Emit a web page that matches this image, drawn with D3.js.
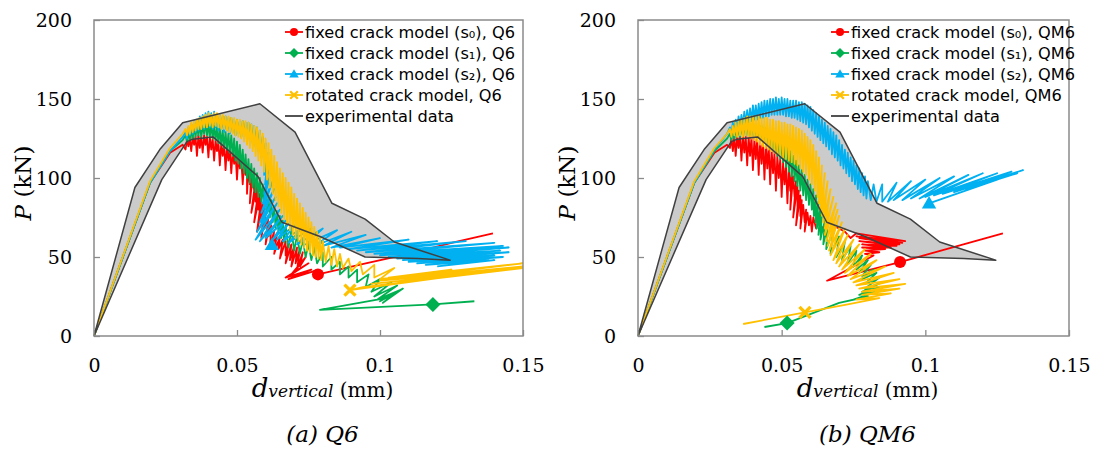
<!DOCTYPE html>
<html>
<head>
<meta charset="utf-8">
<script src="https://cdn.jsdelivr.net/npm/d3@7"></script>
<style>
  body { margin: 0; background: #fff; }
  .tick text { font-family: "DejaVu Serif", serif; font-size: 19px; fill: #000; }
  .tick line { stroke: #8a8a8a; stroke-width: 1.3; }
  .legend text { font-family: "DejaVu Sans", sans-serif; font-size: 16.2px; fill: #000; }
</style>
</head>
<body>
<div id="chart"></div>
<script>
/* SET UP */

const w = 1103;
const h = 450;
const top_ = 20;
const bottom_ = 336;

const xTicks = [0, 0.05, 0.1, 0.15];
const yTicks = [0, 50, 100, 150, 200];
const colors = ["#ff0000", "#00b050", "#00b0f0", "#ffc000"];

// experimental envelope (same test data in both panels), [d (mm), P (kN)]
const envelope = [
  [0, 0], [0.0143, 94], [0.023, 118], [0.031, 135], [0.058, 147], [0.0703, 129],
  [0.0832, 84], [0.0948, 74], [0.105, 59.5], [0.1245, 48], [0.1133, 49], [0.0948, 50],
  [0.079, 63], [0.0657, 72], [0.0573, 101], [0.0416, 126], [0.0346, 124.6],
  [0.0325, 123], [0.0237, 99], [0, 0]
];

// Q6 panel
const q6Red = [
  [0,0],[0.0196,97],[0.0266,116],[0.031,121],[0.032,118],[0.0325,124],[0.033,120],[0.0335,125],
  [0.034,117],[0.0345,126],[0.035,121],[0.0355,126],[0.036,114],[0.0365,127],[0.037,119],[0.0375,126],
  [0.038,116],[0.0385,127],[0.039,121],[0.0395,126],[0.040,113],[0.0405,126],[0.041,118],[0.0415,125],
  [0.042,111],[0.0425,124],[0.043,117],[0.0435,123],[0.044,108],[0.0445,122],[0.045,114],[0.0455,121],
  [0.046,105],[0.0465,120],[0.047,111],[0.0475,118],[0.048,103],[0.0485,117],[0.049,109],[0.0495,115],
  [0.050,99],[0.0505,114],[0.051,106],[0.0515,112],[0.052,96],[0.0525,110],[0.053,102],[0.0535,108],
  [0.0535,90],[0.054,106],[0.0545,96],[0.055,104],[0.0545,84],[0.0555,102],[0.056,92],[0.0565,99],
  [0.055,78],[0.057,96],[0.0565,85],[0.0575,93],[0.056,72],[0.058,90],[0.0575,80],[0.0585,87],
  [0.057,66],[0.059,84],[0.0585,74],[0.0595,81],[0.0585,62],[0.060,78],[0.0595,68],[0.061,76],
  [0.060,58],[0.0615,72],[0.061,63],[0.062,70],[0.0615,55],[0.063,67],[0.0625,58],[0.064,65],
  [0.063,52],[0.065,63],[0.0645,55],[0.066,61],[0.065,49],[0.067,60],[0.067,51],[0.068,59],
  [0.067,46],[0.069,58],[0.0685,48],[0.070,57],[0.069,44],[0.071,56],[0.0705,46],[0.072,55],
  [0.071,42],[0.073,53],[0.072,44],[0.074,50],[0.069,39],[0.075,46],[0.067,37],[0.076,42],
  [0.068,36],[0.077,41],[0.0783,39],[0.095,46],[0.11,52],[0.125,59],[0.1395,65]
];
const q6Green = [
  [0,0],[0.0196,97],[0.0266,117],[0.031,124],[0.032,127],[0.0325,123],[0.033,129],[0.0335,124],
  [0.034,131],[0.0345,125],[0.035,132],[0.0355,126],[0.036,133],[0.0365,127],[0.037,134],[0.0375,126],
  [0.038,133],[0.0385,128],[0.039,135],[0.0395,127],[0.040,134],[0.0405,126],[0.041,134],[0.0415,125],
  [0.042,133],[0.0425,124],[0.043,132],[0.0435,122],[0.044,131],[0.0445,121],[0.045,130],[0.0455,119],
  [0.046,129],[0.0465,118],[0.047,128],[0.0475,116],[0.048,127],[0.0485,114],[0.049,125],[0.0495,111],
  [0.050,123],[0.0505,109],[0.051,121],[0.0515,106],[0.052,118],[0.0525,103],[0.053,115],[0.0535,100],
  [0.054,112],[0.0545,97],[0.055,109],[0.0555,94],[0.056,106],[0.0565,91],[0.057,103],[0.0575,88],
  [0.058,100],[0.0585,85],[0.059,96],[0.0595,81],[0.060,92],[0.0605,78],[0.061,89],[0.0615,75],
  [0.062,86],[0.0625,72],[0.063,82],[0.0635,68],[0.064,79],[0.0645,65],[0.065,76],[0.0655,62],
  [0.066,73],[0.0665,59],[0.067,70],[0.068,56],[0.069,67],[0.070,54],[0.071,64],[0.072,52],
  [0.073,61],[0.074,50],[0.075,58],[0.076,48],[0.077,56],[0.078,46],[0.080,53],[0.080,44],
  [0.083,50],[0.083,42],[0.086,47],[0.086,39],[0.089,44],[0.089,37],[0.092,42],[0.092,34],
  [0.096,39],[0.095,31],[0.1,36],[0.097,28],[0.104,34],[0.098,25],[0.106,32],[0.099,23],
  [0.107,29],[0.1,22],[0.105,27],[0.101,21],[0.108,30],[0.102,24],[0.079,16.5],[0.1185,20],
  [0.133,22]
];
const q6Blue = [
  [0,0],[0.0196,97],[0.0266,117],[0.031,126],[0.032,129],[0.0325,125],[0.033,132],[0.0335,127],
  [0.034,134],[0.0345,128],[0.035,136],[0.0355,129],[0.036,137],[0.0365,130],[0.037,139],[0.0375,131],
  [0.038,140],[0.0385,131],[0.039,141],[0.0395,132],[0.040,142],[0.0405,132],[0.041,141],[0.0415,131],
  [0.042,142],[0.0425,132],[0.043,140],[0.0435,130],[0.044,140],[0.0445,131],[0.045,139],[0.0455,129],
  [0.046,139],[0.0465,130],[0.047,138],[0.0475,128],[0.048,138],[0.0485,129],[0.049,137],[0.0495,127],
  [0.050,137],[0.0505,128],[0.051,136],[0.0515,126],[0.052,136],[0.0525,127],[0.053,135],[0.0535,125],
  [0.054,135],[0.0545,124],[0.055,134],[0.0555,122],[0.056,133],[0.0565,120],[0.057,132],[0.0575,117],
  [0.058,130],[0.0585,113],[0.059,126],[0.0595,108],[0.060,122],[0.0595,102],[0.061,116],[0.0598,96],
  [0.0615,110],[0.0595,90],[0.062,104],[0.059,84],[0.0625,98],[0.0585,78],[0.063,93],[0.058,72],
  [0.0635,88],[0.057,66],[0.064,84],[0.0565,61],[0.065,80],[0.058,60],[0.066,76],[0.06,62],
  [0.067,73],[0.062,60],[0.068,71],[0.064,61],[0.07,70],[0.066,60],[0.073,69],[0.068,59],
  [0.076,68],[0.071,58],[0.08,68],[0.074,58],[0.085,67],[0.077,57],[0.09,66],[0.08,57],
  [0.095,64],[0.083,56],[0.1,62],[0.086,56],[0.11,61],[0.089,55],[0.12,60],[0.092,54],
  [0.13,60],[0.095,53],[0.14,59],[0.098,52],[0.143,57],[0.1,51],[0.145,56],[0.103,50],
  [0.142,54],[0.106,49],[0.145,53],[0.108,48],[0.14,51],[0.11,47],[0.143,50],[0.113,46],
  [0.138,49],[0.116,45],[0.14,48],[0.12,44]
];
const q6Yellow = [
  [0,0],[0.0196,98],[0.0266,119],[0.031,128],[0.032,131],[0.0325,127],[0.033,133],[0.0335,128],
  [0.034,135],[0.0345,129],[0.035,136],[0.0355,130],[0.036,137],[0.0365,131],[0.037,138],[0.0375,131],
  [0.038,139],[0.0385,132],[0.039,140],[0.0395,132],[0.040,141],[0.0405,133],[0.041,140],[0.0415,132],
  [0.042,141],[0.0425,133],[0.043,141],[0.0435,132],[0.044,140],[0.0445,131],[0.045,140],[0.0455,131],
  [0.046,139],[0.0465,130],[0.047,139],[0.0475,129],[0.048,138],[0.0485,128],[0.049,138],[0.0495,127],
  [0.050,137],[0.0505,126],[0.051,137],[0.0515,125],[0.052,136],[0.0525,123],[0.053,136],[0.0535,121],
  [0.054,135],[0.0545,119],[0.055,134],[0.0555,117],[0.056,133],[0.0565,114],[0.057,132],[0.0575,111],
  [0.058,130],[0.0585,108],[0.059,128],[0.0595,104],[0.060,125],[0.0605,99],[0.061,122],[0.0615,94],
  [0.062,118],[0.0625,90],[0.063,114],[0.0635,86],[0.064,110],[0.0645,82],[0.065,106],[0.0655,78],
  [0.066,103],[0.0665,74],[0.067,100],[0.0675,71],[0.068,97],[0.0685,67],[0.069,94],[0.0695,64],
  [0.070,90],[0.0705,62],[0.071,87],[0.0715,60],[0.072,84],[0.0725,58],[0.073,81],[0.0735,56],
  [0.074,78],[0.0745,54],[0.075,75],[0.0755,53],[0.076,72],[0.0765,51],[0.077,69],[0.0775,50],
  [0.078,66],[0.0785,49],[0.079,63],[0.0795,48],[0.080,60],[0.081,47],[0.082,57],[0.083,45],
  [0.084,55],[0.085,44],[0.086,52],[0.087,43],[0.089,49],[0.09,41],[0.093,47],[0.094,39],
  [0.098,45],[0.098,37],[0.105,43],[0.1,36],[0.125,42],[0.103,37],[0.15,46],[0.104,36],
  [0.15,44],[0.1,35],[0.14,41],[0.097,33],[0.15,43],[0.094,31],[0.0895,29],[0.15,44]
];
// marker positions: s0 circle, s1 diamond, s2 triangle, rotated cross
const q6Markers = [[0.0783, 39], [0.1185, 20], [0.0622, 57.6], [0.0895, 29]];

// QM6 panel
const qm6Red = [
  [0,0],[0.0196,97],[0.0266,116],[0.031,121],[0.032,119],[0.0325,125],[0.033,117],[0.0335,126],
  [0.034,114],[0.0345,126],[0.035,119],[0.0355,127],[0.036,111],[0.0365,127],[0.037,116],[0.0375,126],
  [0.038,108],[0.0385,126],[0.039,114],[0.0395,126],[0.040,105],[0.0405,125],[0.041,112],[0.0415,125],
  [0.042,102],[0.0425,124],[0.043,109],[0.0435,123],[0.044,99],[0.0445,121],[0.045,106],[0.0455,120],
  [0.046,96],[0.0465,118],[0.047,103],[0.0475,116],[0.048,92],[0.0485,114],[0.049,100],[0.0495,112],
  [0.050,88],[0.0505,110],[0.051,96],[0.0515,108],[0.052,84],[0.0525,106],[0.053,92],[0.0535,104],
  [0.053,80],[0.054,101],[0.0545,88],[0.055,98],[0.054,75],[0.0555,95],[0.0555,82],[0.056,92],
  [0.055,70],[0.0565,89],[0.0565,76],[0.057,86],[0.0565,68],[0.0575,83],[0.058,72],[0.0585,80],
  [0.058,66],[0.059,78],[0.0595,70],[0.060,76],[0.0605,66],[0.061,75],[0.062,68],[0.063,74],
  [0.064,68],[0.066,72],[0.068,70],[0.072,66],[0.074,62],[0.076,65],[0.093,60],[0.076,63],
  [0.092,59],[0.077,62],[0.091,58],[0.077,60],[0.09,57],[0.078,58],[0.088,56],[0.078,56],
  [0.086,55],[0.079,54],[0.084,53],[0.079,52],[0.082,51],[0.0658,35],[0.0912,46.8],[0.127,65]
];
const qm6Green = [
  [0,0],[0.0196,97],[0.0266,117],[0.031,125],[0.032,128],[0.0325,124],[0.033,130],[0.0335,125],
  [0.034,131],[0.0345,126],[0.035,132],[0.0355,126],[0.036,133],[0.0365,127],[0.037,134],[0.0375,127],
  [0.038,134],[0.0385,127],[0.039,135],[0.0395,127],[0.040,134],[0.0405,126],[0.041,134],[0.0415,125],
  [0.042,133],[0.0425,124],[0.043,133],[0.0435,123],[0.044,132],[0.0445,122],[0.045,131],[0.0455,120],
  [0.046,130],[0.0465,118],[0.047,129],[0.0475,116],[0.048,127],[0.0485,114],[0.049,126],[0.0495,112],
  [0.050,124],[0.0505,110],[0.051,122],[0.0515,107],[0.052,120],[0.0525,104],[0.053,117],[0.0535,101],
  [0.054,114],[0.0545,98],[0.055,111],[0.0555,95],[0.056,108],[0.0565,92],[0.057,105],[0.0575,89],
  [0.058,102],[0.0585,86],[0.059,99],[0.0595,83],[0.060,96],[0.0605,80],[0.061,93],[0.0612,76],
  [0.062,89],[0.0618,72],[0.0628,85],[0.0622,68],[0.0635,81],[0.0628,64],[0.064,77],[0.0635,61],
  [0.065,73],[0.0645,58],[0.066,70],[0.0655,55],[0.068,67],[0.067,52],[0.070,63],[0.069,50],
  [0.072,60],[0.071,48],[0.074,57],[0.073,46],[0.076,54],[0.075,44],[0.078,51],[0.076,42],
  [0.080,48],[0.077,40],[0.081,45],[0.078,38],[0.082,42],[0.078,36],[0.083,40],[0.079,33],
  [0.084,37],[0.079,30],[0.085,34],[0.078,28],[0.084,31],[0.077,26],[0.083,28],[0.075,23],
  [0.08,25],[0.07,21],[0.0519,8.2],[0.044,5.7]
];
const qm6Blue = [
  [0,0],[0.0196,97],[0.0266,118],[0.031,128],[0.032,132],[0.0325,128],[0.033,135],[0.0335,130],
  [0.034,137],[0.0345,131],[0.035,139],[0.0355,132],[0.036,140],[0.0365,133],[0.037,142],[0.0375,134],
  [0.038,143],[0.0385,135],[0.039,144],[0.0395,136],[0.040,146],[0.0405,137],[0.041,146],[0.0415,137],
  [0.042,147],[0.0425,138],[0.043,148],[0.0435,138],[0.044,149],[0.0445,139],[0.045,149],[0.0455,139],
  [0.046,150],[0.0465,140],[0.047,150],[0.0475,140],[0.048,151],[0.0485,140],[0.049,150],[0.0495,140],
  [0.050,151],[0.0505,140],[0.051,150],[0.0515,139],[0.052,150],[0.0525,139],[0.053,149],[0.0535,138],
  [0.054,149],[0.0545,138],[0.055,149],[0.0555,137],[0.056,148],[0.0565,136],[0.057,148],[0.0575,135],
  [0.058,147],[0.0585,134],[0.059,146],[0.0595,132],[0.060,145],[0.0605,130],[0.061,143],[0.0615,128],
  [0.062,141],[0.0625,126],[0.063,139],[0.0635,124],[0.064,137],[0.0645,122],[0.065,135],[0.0655,120],
  [0.066,133],[0.0665,118],[0.067,131],[0.0675,115],[0.068,129],[0.0685,113],[0.069,127],[0.0695,111],
  [0.070,124],[0.0705,108],[0.071,121],[0.0715,106],[0.072,118],[0.0725,103],[0.073,116],[0.0735,101],
  [0.074,113],[0.0745,98],[0.075,111],[0.0755,96],[0.076,108],[0.0765,93],[0.077,106],[0.0775,91],
  [0.078,103],[0.0785,89],[0.079,101],[0.0795,87],[0.080,98],[0.081,86],[0.082,96],[0.083,85],
  [0.085,96],[0.085,85],[0.09,97],[0.087,85],[0.095,98],[0.089,86],[0.1,99],[0.092,86],
  [0.105,100],[0.095,87],[0.11,101],[0.098,87],[0.115,102],[0.1,88],[0.12,103],[0.103,89],
  [0.125,103],[0.106,90],[0.13,104],[0.11,91],[0.134,105],[0.114,93],[0.13,102],[0.118,95],
  [0.132,103],[0.12,97],[0.125,99],[0.1013,84]
];
const qm6Yellow = [
  [0,0],[0.0196,98],[0.0266,119],[0.031,128],[0.032,131],[0.0325,126],[0.033,133],[0.0335,127],
  [0.034,135],[0.0345,126],[0.035,136],[0.0355,127],[0.036,137],[0.0365,126],[0.037,138],[0.0375,127],
  [0.038,139],[0.0385,126],[0.039,139],[0.0395,125],[0.040,139],[0.0405,124],[0.041,139],[0.0415,123],
  [0.042,139],[0.0425,121],[0.043,138],[0.0435,120],[0.044,138],[0.0445,119],[0.045,138],[0.0455,118],
  [0.046,137],[0.0465,117],[0.047,137],[0.0475,116],[0.048,136],[0.0485,115],[0.049,136],[0.0495,114],
  [0.050,135],[0.0505,113],[0.051,135],[0.0515,112],[0.052,134],[0.0525,111],[0.053,134],[0.0535,110],
  [0.054,133],[0.0545,109],[0.055,132],[0.0555,108],[0.056,131],[0.0565,106],[0.057,130],[0.0575,104],
  [0.058,128],[0.0585,102],[0.059,126],[0.0595,99],[0.060,124],[0.0605,96],[0.061,121],[0.0615,92],
  [0.062,117],[0.0625,88],[0.063,113],[0.063,84],[0.064,108],[0.0635,80],[0.065,103],[0.064,76],
  [0.066,98],[0.0645,72],[0.067,93],[0.065,68],[0.068,88],[0.065,64],[0.069,84],[0.0655,60],
  [0.0695,80],[0.066,57],[0.070,76],[0.0665,54],[0.071,72],[0.067,51],[0.072,68],[0.068,48],
  [0.073,64],[0.069,46],[0.075,61],[0.070,44],[0.077,58],[0.071,42],[0.079,55],[0.072,40],
  [0.081,52],[0.073,38],[0.083,48],[0.074,36],[0.086,44],[0.075,34],[0.089,40],[0.076,32],
  [0.091,36],[0.077,30],[0.093,33],[0.078,28],[0.091,30],[0.078,26],[0.088,27],[0.076,23],
  [0.084,24],[0.073,20],[0.0581,15],[0.0366,7.6]
];
const qm6Markers = [[0.0912, 46.8], [0.0519, 8.2], [0.1013, 84], [0.0581, 15]];

const panels = [
  { left: 94, right: 523, tag: "(a)", name: "Q6",
    series: [q6Red, q6Green, q6Blue, q6Yellow], markers: q6Markers },
  { left: 638, right: 1069, tag: "(b)", name: "QM6",
    series: [qm6Red, qm6Green, qm6Blue, qm6Yellow], markers: qm6Markers },
];

const legendLabels = [
  "fixed crack model (s\u2080), ",
  "fixed crack model (s\u2081), ",
  "fixed crack model (s\u2082), ",
  "rotated crack model, ",
  "experimental data",
];

/* MARKER SHAPES */

function markerPath(i, s) {
  if (i === 0) return d3.symbol(d3.symbolCircle, Math.PI * s * s)();
  if (i === 1) return `M0,${-s * 1.25}L${s * 1.25},0L0,${s * 1.25}L${-s * 1.25},0Z`;
  if (i === 2) return `M0,${-s * 1.2}L${s * 1.2},${s * 0.85}L${-s * 1.2},${s * 0.85}Z`;
  return `M${-s},${-s}L${s},${s}M${-s},${s}L${s},${-s}`;
}

function drawMarker(g, i, cx, cy, s) {
  const p = g.append("path")
    .attr("transform", `translate(${cx},${cy})`)
    .attr("d", markerPath(i, s));
  if (i === 3) {
    p.attr("fill", "none").attr("stroke", colors[i]).attr("stroke-width", s * 0.6);
  } else {
    p.attr("fill", colors[i]);
  }
}

/* MAKING THE CHART */

const svg = d3.select("#chart")
  .append("svg")
  .attr("width", w)
  .attr("height", h);

panels.forEach((pn, k) => {
  const x = d3.scaleLinear().domain([0, 0.15]).range([pn.left, pn.right]);
  const y = d3.scaleLinear().domain([0, 200]).range([bottom_, top_]);
  const g = svg.append("g");

  const clipId = "clip" + k;
  svg.append("clipPath").attr("id", clipId)
    .append("rect")
    .attr("x", pn.left).attr("y", top_)
    .attr("width", pn.right - pn.left).attr("height", bottom_ - top_);

  // axes with inward ticks
  g.append("g")
    .attr("transform", `translate(0,${bottom_})`)
    .call(d3.axisBottom(x).tickValues(xTicks).tickSizeInner(-6).tickSizeOuter(0)
      .tickPadding(23).tickFormat((d) => String(d)))
    .call((a) => a.select(".domain").remove());

  g.append("g")
    .attr("transform", `translate(${pn.left},0)`)
    .call(d3.axisLeft(y).tickValues(yTicks).tickSizeInner(-6).tickSizeOuter(0)
      .tickPadding(22))
    .call((a) => a.select(".domain").remove());

  // experimental envelope fill
  const line = d3.line().x((d) => x(d[0])).y((d) => y(d[1]));
  g.append("path")
    .attr("d", line(envelope))
    .attr("fill", "#cbcbcb")
    .attr("stroke", "none");

  // model curves
  const curves = g.append("g").attr("clip-path", `url(#${clipId})`);
  pn.series.forEach((s, i) => {
    curves.append("path")
      .attr("d", line(s))
      .attr("fill", "none")
      .attr("stroke", colors[i])
      .attr("stroke-width", 1.8)
      .attr("stroke-linejoin", "round");
  });

  // experimental outline on top
  g.append("path")
    .attr("d", line(envelope))
    .attr("fill", "none")
    .attr("stroke", "#404040")
    .attr("stroke-width", 1.5)
    .attr("stroke-linejoin", "round");

  pn.markers.forEach((m, i) => {
    drawMarker(g, i, x(m[0]), y(m[1]), i === 3 ? 5.5 : 6);
  });

  // frame
  g.append("rect")
    .attr("x", pn.left).attr("y", top_)
    .attr("width", pn.right - pn.left).attr("height", bottom_ - top_)
    .attr("fill", "none")
    .attr("stroke", "#8a8a8a")
    .attr("stroke-width", 1.5);

  // legend
  const lg = g.append("g").attr("class", "legend");
  const lx = pn.right - 238;
  legendLabels.forEach((t, i) => {
    const cy = 32 + i * 21;
    const col = i < 4 ? colors[i] : "#404040";
    lg.append("line")
      .attr("x1", lx).attr("x2", lx + 18)
      .attr("y1", cy).attr("y2", cy)
      .attr("stroke", col).attr("stroke-width", 1.8);
    if (i < 4) drawMarker(lg, i, lx + 9, cy, i === 3 ? 3.8 : 4);
    lg.append("text")
      .attr("x", lx + 20).attr("y", cy + 6)
      .text(i < 4 ? t + pn.name : t);
  });

  // axis titles
  const yl = g.append("text")
    .attr("transform", `translate(${pn.left - 63},183) rotate(-90)`)
    .attr("text-anchor", "middle")
    .attr("font-family", "DejaVu Serif, serif")
    .attr("font-size", 23);
  yl.append("tspan").attr("font-style", "italic").text("P");
  yl.append("tspan").text(" (kN)");

  const cx = (pn.left + pn.right) / 2 + 14;
  const xl = g.append("text")
    .attr("x", cx).attr("y", 397)
    .attr("text-anchor", "middle")
    .attr("font-family", "DejaVu Serif, serif");
  xl.append("tspan").attr("font-style", "italic").attr("font-size", 26).text("d");
  xl.append("tspan").attr("font-style", "italic").attr("font-size", 17).text("vertical");
  xl.append("tspan").attr("font-size", 20).text(" (mm)");

  g.append("text")
    .attr("x", cx).attr("y", 442)
    .attr("text-anchor", "middle")
    .attr("font-family", "DejaVu Serif, serif")
    .attr("font-style", "italic")
    .attr("font-size", 23)
    .text(`${pn.tag} ${pn.name}`);
});
</script>
</body>
</html>
